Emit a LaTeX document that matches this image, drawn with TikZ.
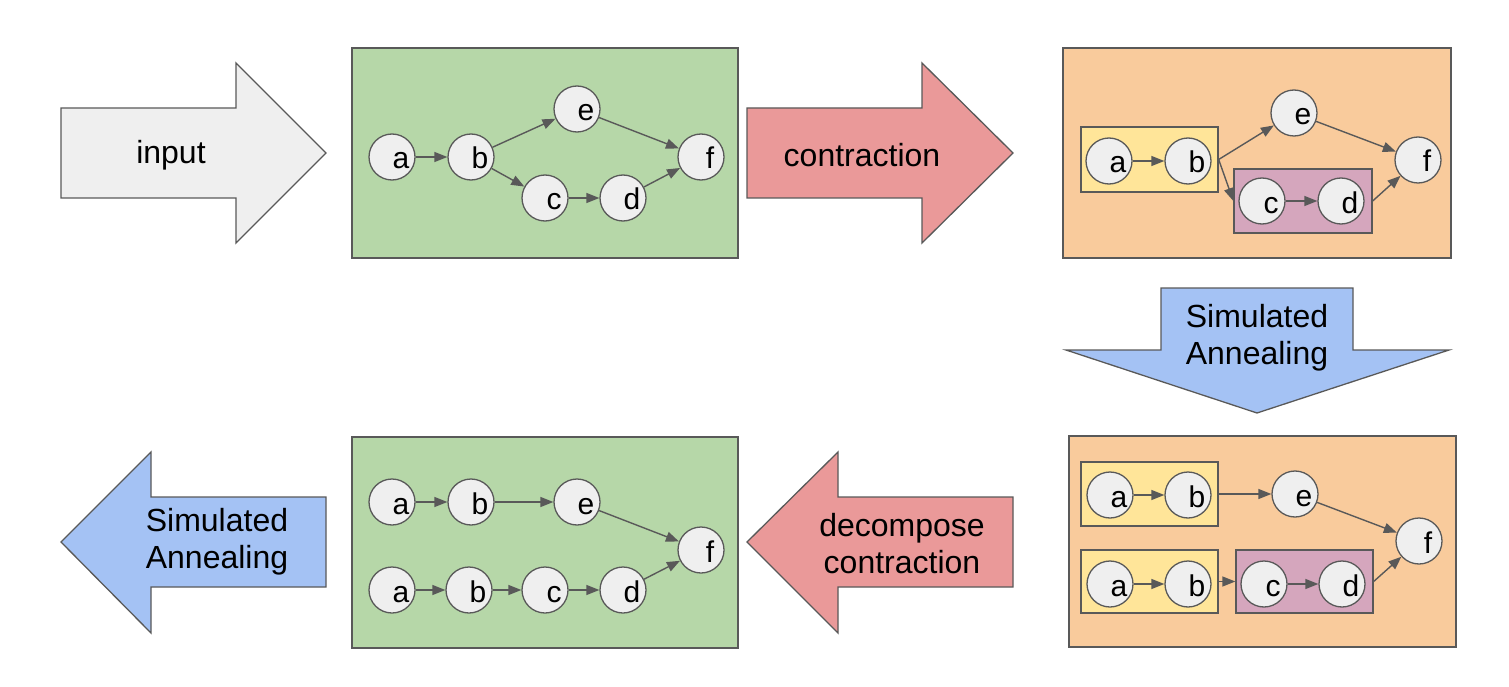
\documentclass[tikz,border=0pt]{standalone}
\usepackage{fontspec}
\setmainfont{Liberation Sans}
\usetikzlibrary{arrows.meta}
\definecolor{grnbox}{HTML}{B6D7A8}
\definecolor{orgbox}{HTML}{F9CB9C}
\definecolor{yelbox}{HTML}{FFE599}
\definecolor{purbox}{HTML}{D5A6BD}
\definecolor{redarr}{HTML}{EA9999}
\definecolor{bluarr}{HTML}{A4C2F4}
\definecolor{lgray}{HTML}{EFEFEF}
\definecolor{dgray}{HTML}{595959}
\tikzset{
  panel/.style={draw=dgray, line width=1.3pt, rectangle, inner sep=0pt},
  grp/.style={draw=dgray, line width=1.3pt, rectangle, inner sep=0pt},
  vtx/.style={circle, draw=dgray, fill=lgray, line width=1.3pt, minimum size=46pt, inner sep=0pt,
    text height=24pt, text depth=0pt, font=\fontsize{30}{32}\selectfont},
  edge/.style={draw=dgray, line width=1.4pt, -{Triangle[length=13pt,width=10pt]}},
  bigarr/.style={draw=dgray, line width=1.3pt, line join=miter},
  arrtxt/.style={font=\fontsize{32}{37}\selectfont, align=center, inner sep=0pt}
}
\newcommand{\vt}[3]{\node[vtx] (#1) at (#2) {\hspace*{18pt}#3};}
\begin{document}
\begin{tikzpicture}[x=1pt,y=-1pt]
\useasboundingbox (0,0) rectangle (1509,687);

% big arrows
\filldraw[bigarr, fill=lgray] (61,108) -- (236,108) -- (236,63) -- (326,153) -- (236,243) -- (236,198) -- (61,198) -- cycle;
\node[arrtxt] (tinput) at (171,155) {input};

\filldraw[bigarr, fill=redarr] (747,108) -- (922,108) -- (922,63) -- (1013,153) -- (922,243) -- (922,198) -- (747,198) -- cycle;
\node[arrtxt] (tcontr) at (862,155) {contraction};

\filldraw[bigarr, fill=bluarr] (1161,288) -- (1353,288) -- (1353,350) -- (1449,350) -- (1257,413) -- (1066,350) -- (1161,350) -- cycle;
\node[arrtxt] (tsa1) at (1257,338) {Simulated\\Annealing};

\filldraw[bigarr, fill=redarr] (1013,497) -- (838,497) -- (838,452) -- (747,542) -- (838,633) -- (838,587) -- (1013,587) -- cycle;
\node[arrtxt] (tdec) at (902,544) {decompose\\contraction};

\filldraw[bigarr, fill=bluarr] (326,497) -- (151,497) -- (151,452) -- (61,542) -- (151,633) -- (151,587) -- (326,587) -- cycle;
\node[arrtxt] (tsa2) at (217,542) {Simulated\\Annealing};

% panel 1 (green, top)
\node[panel, fill=grnbox, minimum width=386pt, minimum height=210pt] (g1) at (545,153) {};
\vt{a1}{392,157}{a}
\vt{b1}{471,157}{b}
\vt{e1}{577,109}{e}
\vt{c1}{545,198}{c}
\vt{d1}{623,198}{d}
\vt{f1}{701,157}{f}
\draw[edge] (a1) -- (b1);
\draw[edge] (b1) -- (e1);
\draw[edge] (b1) -- (c1);
\draw[edge] (c1) -- (d1);
\draw[edge] (d1) -- (f1);
\draw[edge] (e1) -- (f1);

% panel 2 (orange, top)
\node[panel, fill=orgbox, minimum width=388pt, minimum height=210pt] (o1) at (1257,153) {};
\node[grp, fill=yelbox, minimum width=137pt, minimum height=65pt] (y1) at (1149.5,159.5) {};
\node[grp, fill=purbox, minimum width=138pt, minimum height=64pt] (p1) at (1303,201) {};
\vt{a2}{1109,161}{a}
\vt{b2}{1188,161}{b}
\vt{e2}{1294,113}{e}
\vt{c2}{1262,201}{c}
\vt{d2}{1341,201}{d}
\vt{f2}{1418,160}{f}
\draw[edge] (a2) -- (b2);
\draw[edge] (y1.east) -- (e2);
\draw[edge] (y1.east) -- (p1.west);
\draw[edge] (c2) -- (d2);
\draw[edge] (p1.east) -- (f2);
\draw[edge] (e2) -- (f2);

% panel 3 (orange, bottom)
\node[panel, fill=orgbox, minimum width=387pt, minimum height=211pt] (o2) at (1262.5,541.5) {};
\node[grp, fill=yelbox, minimum width=137pt, minimum height=64pt] (y2) at (1149.5,494) {};
\node[grp, fill=yelbox, minimum width=137pt, minimum height=63pt] (y3) at (1149.5,581.5) {};
\node[grp, fill=purbox, minimum width=137pt, minimum height=63pt] (p2) at (1304.5,581.5) {};
\vt{a3}{1110,495}{a}
\vt{b3}{1188,495}{b}
\vt{e3}{1295,494}{e}
\vt{f3}{1419,541}{f}
\vt{a4}{1110,584}{a}
\vt{b4}{1188,584}{b}
\vt{c4}{1264,584}{c}
\vt{d4}{1342,584}{d}
\draw[edge] (a3) -- (b3);
\draw[edge] (y2.east) -- (e3);
\draw[edge] (e3) -- (f3);
\draw[edge] (a4) -- (b4);
\draw[edge] (y3.east) -- (p2.west);
\draw[edge] (c4) -- (d4);
\draw[edge] (p2.east) -- (f3);

% panel 4 (green, bottom)
\node[panel, fill=grnbox, minimum width=386pt, minimum height=211pt] (g2) at (545,542.5) {};
\vt{a5}{392,502}{a}
\vt{b5}{471,502}{b}
\vt{e5}{577,502}{e}
\vt{f5}{701,550}{f}
\vt{a6}{392,590}{a}
\vt{b6}{469,590}{b}
\vt{c6}{545,590}{c}
\vt{d6}{623,590}{d}
\draw[edge] (a5) -- (b5);
\draw[edge] (b5) -- (e5);
\draw[edge] (e5) -- (f5);
\draw[edge] (a6) -- (b6);
\draw[edge] (b6) -- (c6);
\draw[edge] (c6) -- (d6);
\draw[edge] (d6) -- (f5);
\end{tikzpicture}
\end{document}
